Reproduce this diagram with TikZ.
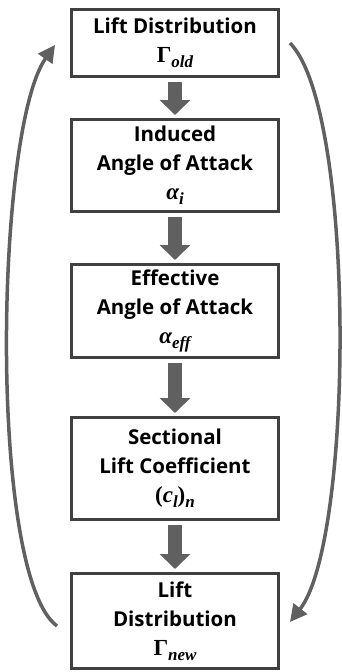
\documentclass[tikz,border=0pt]{standalone}
\usepackage{fontspec}
\setmainfont{Open Sans}
\newfontfamily\symfont{Liberation Serif}
\usetikzlibrary{arrows.meta}

\definecolor{boxline}{RGB}{64,64,64}
\definecolor{arrowgray}{RGB}{96,96,96}

% quantity with subscript, set like the bold math of the figure
\newcommand{\sub}[1]{\raisebox{-0.22em}{\fontsize{17}{17}\selectfont\itshape #1}}
\newcommand{\qty}[2]{{\symfont\bfseries\fontsize{23}{29}\selectfont #1\sub{#2}}}

\begin{document}
\begin{tikzpicture}[x=1pt, y=-1pt,
        step box/.style={rectangle, draw=boxline, line width=3pt, fill=white,
            minimum width=207pt, align=center, font=\bfseries\fontsize{20.5}{29}\selectfont},
        down arrow/.style={draw=arrowgray, line width=14pt,
            -{Triangle[width=30pt, length=15pt]}, shorten <=4pt, shorten >=3pt},
        loop arrow/.style={draw=arrowgray, line width=3.5pt,
            -{Triangle[width=17pt, length=17pt]}}]
        \useasboundingbox (0,0) rectangle (342,672);

        % Nodes
        \node[step box, minimum height=67pt] (old) at (175, 43) {Lift Distribution\\\qty{Γ}{old}};
        \node[step box, minimum height=92pt] (induced) at (175, 165.5) {Induced\\Angle of Attack\\\qty{\itshape α}{i}};
        \node[step box, minimum height=93pt] (effective) at (175, 311) {Effective\\Angle of Attack\\\qty{\itshape α}{eff}};
        \node[step box, minimum height=102pt] (sectional) at (175, 468.5) {Sectional\\Lift Coefficient\\\qty{(\textit{c}\sub{l})}{n}};
        \node[step box, minimum height=95pt] (new) at (175, 621) {Lift\\Distribution\\\qty{Γ}{new}};

        % Arrows
        \draw[down arrow] (old) -- (induced);
        \draw[down arrow] (induced) -- (effective);
        \draw[down arrow] (effective) -- (sectional);
        \draw[down arrow] (sectional) -- (new);

        % Loop back
        \draw[loop arrow] ([shift={(-13,5)}]new.west) .. controls (-12, 575) and (-5, 130) .. ([shift={(-15,2)}]old.west);
        \draw[loop arrow] ([shift={(10,0)}]old.east) .. controls (356, 110) and (354, 540) .. ([shift={(10,1)}]new.east);
    \end{tikzpicture}
\end{document}
